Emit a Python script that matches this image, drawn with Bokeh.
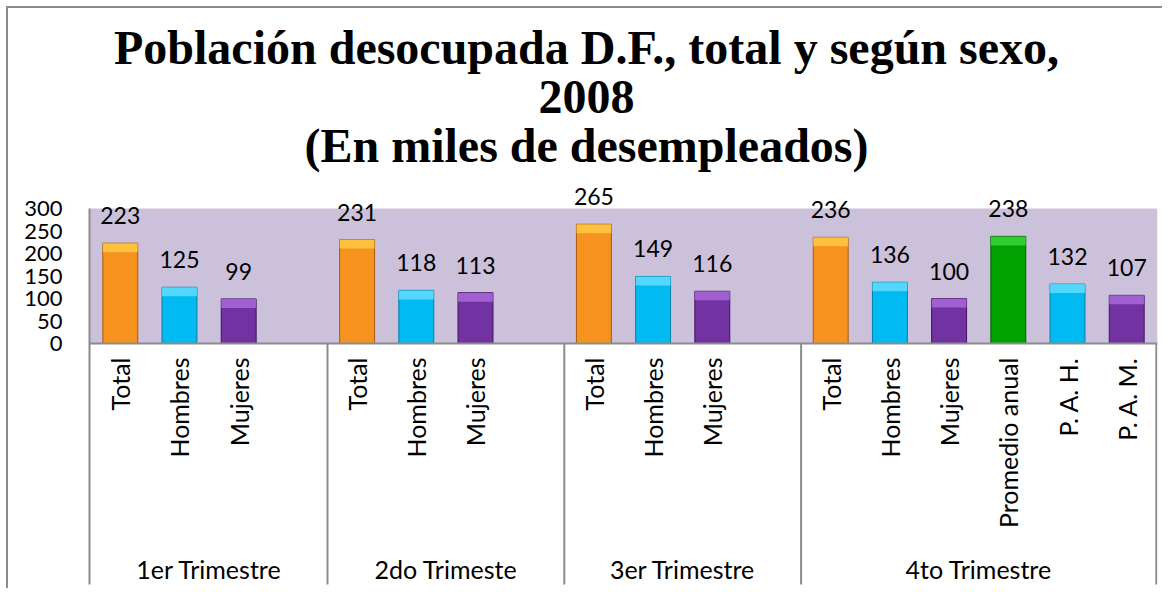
import math
from bokeh.plotting import figure
from bokeh.models import (Range1d, LinearAxis, FixedTicker, ColumnDataSource,
                          LabelSet, Label, BoxAnnotation)
from bokeh.core.properties import value
from bokeh.embed import file_html
from bokeh.resources import INLINE

# ---------------- data ----------------
title_lines = ["Población desocupada D.F., total y según sexo,",
               "2008",
               "(En miles de desempleados)"]
quarters = ["1er Trimestre", "2do Trimeste", "3er Trimestre", "4to Trimestre"]
categories = ["Total", "Hombres", "Mujeres", "",
              "Total", "Hombres", "Mujeres", "",
              "Total", "Hombres", "Mujeres", "",
              "Total", "Hombres", "Mujeres", "Promedio anual", "P. A. H.", "P. A. M."]
category_quarter = [0, 0, 0, 0, 1, 1, 1, 1, 2, 2, 2, 2, 3, 3, 3, 3, 3, 3]
values = [223, 125, 99, None,
          231, 118, 113, None,
          265, 149, 116, None,
          236, 136, 100, 238, 132, 107]
y_ticks = [0, 50, 100, 150, 200, 250, 300]

# ---------------- styles ----------------
FILL = {"Total": "#F6921E", "Hombres": "#00BAF1", "Mujeres": "#7232A2",
        "Promedio anual": "#00A200", "P. A. H.": "#00BAF1", "P. A. M.": "#7232A2"}
TOP = {"Total": "#FFD04A", "Hombres": "#6FE0FF", "Mujeres": "#B070E0",
       "Promedio anual": "#40DC40", "P. A. H.": "#6FE0FF", "P. A. M.": "#B070E0"}
EDGE = {"Total": "#A85A10", "Hombres": "#0080A8", "Mujeres": "#3E1260",
        "Promedio anual": "#005A00", "P. A. H.": "#0080A8", "P. A. M.": "#3E1260"}
GRAY = "#8C8C8C"
LAVENDER = "#CCC1DA"

# geometry (pixels inside the figure canvas, which starts at page (8, 8))
FIG_W, FIG_H = 1156, 582
FRAME_LEFT, FRAME_RIGHT = 81, 1149
AXIS_ZERO_Y = 335          # canvas y of value 0
SEP_END_Y = 576            # canvas y where the group separators end
PX_PER_UNIT = 135 / 300.0  # vertical pixels per data unit
N = len(categories)
X_PAD = 0.02
Y_TOP = AXIS_ZERO_Y / PX_PER_UNIT
Y_BOTTOM = -(FIG_H - AXIS_ZERO_Y) / PX_PER_UNIT
X_PX_PER_UNIT = (FRAME_RIGHT - FRAME_LEFT) / (N + 2 * X_PAD)


def canvas_y(py):
    return (AXIS_ZERO_Y - py) / PX_PER_UNIT


def canvas_x(px):
    return -X_PAD + (px - FRAME_LEFT) / X_PX_PER_UNIT


SEP_END = canvas_y(SEP_END_Y)

# ---------------- derived ----------------
xs, ys, labs, fills, tops, edges, txt = [], [], [], [], [], [], []
for i, (c, v) in enumerate(zip(categories, values)):
    if v is None:
        continue
    xs.append(i + 0.5)
    ys.append(v)
    labs.append(c)
    fills.append(FILL[c])
    tops.append(TOP[c])
    edges.append(EDGE[c])
    txt.append(str(v))
bevel = 9 / PX_PER_UNIT
src = ColumnDataSource(dict(x=xs, y=ys, fill=fills, top_c=tops, edge=edges, text=txt,
                            bevel_bottom=[v - bevel for v in ys]))

bounds = []
for i in range(1, N):
    if category_quarter[i] != category_quarter[i - 1]:
        bounds.append(i)
bounds.append(N)
starts = [0] + bounds[:-1]
centers = [(s + e) / 2.0 for s, e in zip(starts, bounds)]

# ---------------- figure ----------------
p = figure(width=FIG_W, height=FIG_H, output_backend="svg", toolbar_location=None,
           x_range=Range1d(-X_PAD, N + X_PAD), y_range=Range1d(Y_BOTTOM, Y_TOP),
           x_axis_type=None, y_axis_type=None,
           min_border_left=FRAME_LEFT, min_border_right=FIG_W - FRAME_RIGHT,
           min_border_top=0, min_border_bottom=0)
p.outline_line_color = None
p.background_fill_color = "white"
p.border_fill_color = "white"
p.xgrid.visible = False
p.ygrid.visible = False
p.styles = {"margin-left": "6px", "margin-top": "6px",
            "border-left": "2px solid #8C8C8C", "border-top": "2px solid #8C8C8C"}

# title lines, centred on the whole chart
for line, base in zip(title_lines, [39, 88, 137]):
    p.add_layout(Label(x=canvas_x(578), y=canvas_y(base), text=line, text_align="center",
                       text_baseline="alphabetic", text_font="Liberation Serif",
                       text_font_style="bold", text_font_size="48px", text_color="black"))

p.add_layout(BoxAnnotation(bottom=0, top=300, fill_color=LAVENDER, fill_alpha=1,
                           line_color=None, level="underlay"))

# bars
p.vbar(x="x", top="y", bottom=0, width=0.59, source=src, fill_color="fill",
       line_color="edge", line_width=1)
p.vbar(x="x", top="y", bottom="bevel_bottom", width=0.59, source=src, fill_color="top_c",
       fill_alpha=0.75, line_color=None)

# group separators
p.segment(x0=bounds, y0=[0] * len(bounds), x1=bounds, y1=[SEP_END] * len(bounds),
          line_color=GRAY, line_width=2)

# data labels
p.add_layout(LabelSet(x="x", y="y", text="text", source=src, y_offset=19,
                      text_align="center", text_baseline="alphabetic",
                      text_font=value("Lato"), text_font_size="23px", text_color="black"))

# y axis
yaxis = LinearAxis(ticker=FixedTicker(ticks=y_ticks), bounds=(SEP_END, 300),
                   axis_line_color=GRAY, axis_line_width=2,
                   major_tick_line_color=None, minor_tick_line_color=None,
                   major_label_standoff=21, major_label_text_font="Lato",
                   major_label_text_font_size="22px", major_label_text_color="black")
p.add_layout(yaxis, "left")

# category axis
xaxis = LinearAxis(ticker=FixedTicker(ticks=xs),
                   major_label_overrides={x: l for x, l in zip(xs, labs)},
                   fixed_location=0, major_label_orientation=math.pi / 2,
                   major_label_standoff=8,
                   axis_line_color=GRAY, axis_line_width=2,
                   major_tick_line_color=None, minor_tick_line_color=None,
                   major_label_text_font="Lato", major_label_text_font_size="25px",
                   major_label_text_color="black")
p.add_layout(xaxis, "below")

# quarter axis
gaxis = LinearAxis(ticker=FixedTicker(ticks=centers),
                   major_label_overrides={c: q for c, q in zip(centers, quarters)},
                   fixed_location=0, major_label_standoff=204,
                   axis_line_color=None,
                   major_tick_line_color=None, minor_tick_line_color=None,
                   major_label_text_font="Lato", major_label_text_font_size="25px",
                   major_label_text_color="black")
p.add_layout(gaxis, "below")

open("out.html", "w").write(file_html(p, INLINE))
